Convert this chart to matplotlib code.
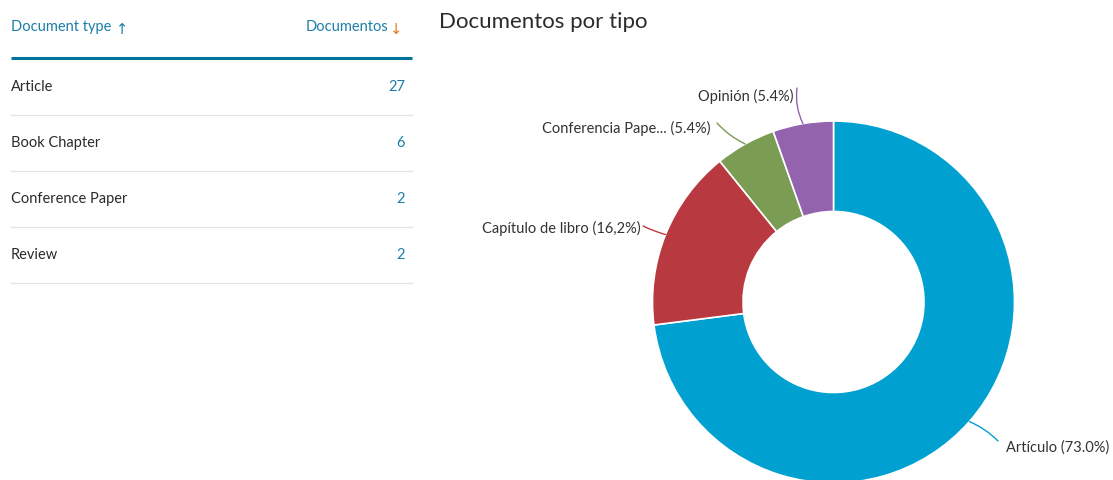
import numpy as np
import matplotlib
matplotlib.use('Agg')
import matplotlib.pyplot as plt

plt.rcParams['font.family'] = ['Lato', 'DejaVu Sans']

# table data
doc_types = ['Article', 'Book Chapter', 'Conference Paper', 'Review']
doc_counts = [27, 6, 2, 2]

# donut data
pie_labels = ['Artículo (73.0%)', 'Capítulo de libro (16,2%)',
              'Conferencia Pape... (5.4%)', 'Opinión (5.4%)']
pie_values = [27, 6, 2, 2]
pie_colors = ['#00a0d1', '#b83a40', '#7b9c53', '#9463ae']

W, H = 1113, 480
fig = plt.figure(figsize=(W / 100, H / 100), dpi=100)

# pixel-space axes for table and title
bg = fig.add_axes([0, 0, 1, 1])
bg.set_xlim(0, W)
bg.set_ylim(H, 0)
bg.axis('off')

teal = '#1c7fa6'
bg.text(11, 27, 'Document type', color=teal, fontsize=10.5, va='center', ha='left')
bg.text(116, 29, '↑', color=teal, fontsize=10.5, va='center', ha='left', family='DejaVu Sans')
bg.text(388, 27, 'Documentos', color=teal, fontsize=10.5, va='center', ha='right')
bg.text(390, 29, '↓', color='#e8731e', fontsize=10.5, va='center', ha='left', family='DejaVu Sans')
bg.plot([11, 412], [58, 58], color='#00739c', lw=2.2, solid_capstyle='butt')

row_y = 87
for name, n in zip(doc_types, doc_counts):
    bg.text(11, row_y, name, color='#2b2b2b', fontsize=10.5, va='center', ha='left')
    bg.text(405, row_y, str(n), color=teal, fontsize=10.5, va='center', ha='right')
    bg.plot([11, 412], [row_y + 28, row_y + 28], color='#e3e3e3', lw=0.9)
    row_y += 56

bg.text(439, 22, 'Documentos por tipo', color='#2b2b2b', fontsize=16, va='center', ha='left')

# donut
cx, cy, r = 833.5, 302, 181
ax = fig.add_axes([(cx - r) / W, (H - cy - r) / H, 2 * r / W, 2 * r / H])
wedges, _ = ax.pie(pie_values, colors=pie_colors, startangle=90, counterclock=False,
                   radius=1, wedgeprops=dict(width=0.5, edgecolor='white', linewidth=1.2))
ax.set_xlim(-1, 1)
ax.set_ylim(-1, 1)
ax.set_aspect('equal')


def px(x, y):
    return ((x - cx) / r, (cy - y) / r)


# label text anchor, connector start (pixels), alignment, curvature
label_pos = [(1006, 448, 998, 441, 'left', 0.1),
             (641, 228, 643, 226, 'right', 0.05),
             (710, 128, 717, 123, 'right', 0.1),
             (793, 96, 797, 88, 'right', 0.15)]
for w, lab, col, (lx, ly, sx, sy, ha, rad) in zip(wedges, pie_labels, pie_colors, label_pos):
    ang = np.deg2rad((w.theta1 + w.theta2) / 2)
    xy = (np.cos(ang), np.sin(ang))
    ax.annotate('', xy=xy, xytext=px(sx, sy), annotation_clip=False,
                arrowprops=dict(arrowstyle='-', color=col, lw=1,
                                shrinkA=0, shrinkB=0,
                                connectionstyle='arc3,rad=%s' % rad))
    ax.text(*px(lx, ly), lab, ha=ha, va='center', fontsize=10.5, color='#333333')

fig.savefig('out.png', dpi=100)
